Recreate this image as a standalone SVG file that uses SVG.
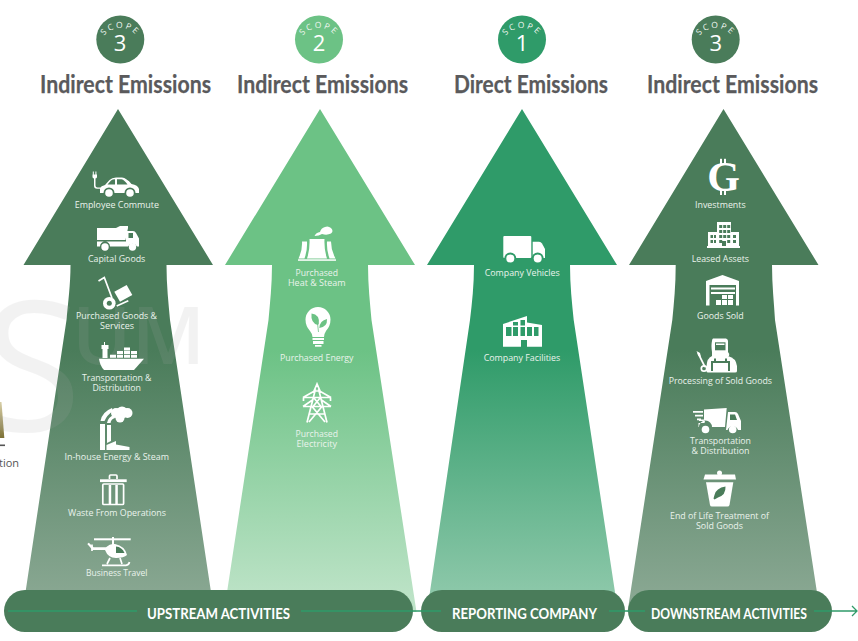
<svg xmlns="http://www.w3.org/2000/svg" xmlns:xlink="http://www.w3.org/1999/xlink" width="858" height="641" viewBox="0 0 858 641">
<style>
text{font-family:"Open Sans","Liberation Sans",sans-serif}
.t{font-size:25.500px;font-weight:700;fill:#5a5a5c;stroke:#5a5a5c;stroke-width:.25;font-family:Lato,"Open Sans",sans-serif}
.l{font-size:9.600px;fill:#eaf3ec}
.p{font-size:15px;font-weight:700;fill:#fff;font-family:Lato,"Open Sans",sans-serif}
.s{font-size:8.500px;fill:#eef5ef;letter-spacing:2.200px;text-anchor:middle}
.n{font-size:22px;fill:#fff;text-anchor:middle}
.w{fill:#fff}
.wl{fill:none;stroke:#fff;stroke-width:1.700}
.d{fill:#4a7c5a}.c{fill:#6cc285}.e{fill:#2f9b69}
.mark{fill:#aaa;opacity:.14}
.pill{fill:#4a7c5a}
.flow{fill:none;stroke:#2f9b69;stroke-width:1.300}
</style>
<defs>
<linearGradient id="g3" gradientUnits="userSpaceOnUse" x1="0" y1="350" x2="0" y2="600"><stop offset="0" stop-color="#4a7c5a"/><stop offset="1" stop-color="#8aa893"/></linearGradient>
<linearGradient id="g2" gradientUnits="userSpaceOnUse" x1="0" y1="350" x2="0" y2="600"><stop offset="0" stop-color="#6cc285"/><stop offset="1" stop-color="#bde3c7"/></linearGradient>
<linearGradient id="g1" gradientUnits="userSpaceOnUse" x1="0" y1="350" x2="0" y2="600"><stop offset="0" stop-color="#2f9b69"/><stop offset="1" stop-color="#8fc9ab"/></linearGradient>
<linearGradient id="gold" x1="0" y1="0" x2="0" y2="1"><stop offset="0" stop-color="#d8cfa8"/><stop offset="1" stop-color="#7d7136"/></linearGradient>
<path id="arc" d="M-20.700 9.200A20.700 20.700 0 0 1 20.700 9.200"/>
</defs>

<g id="background-fragment">
<path d="M0 402H1.500L4.300 438H0Z" fill="url(#gold)"/>
<rect x="0" y="444.500" width="5" height="1.600" fill="#555"/>
<text x="-1" y="467" font-size="11" fill="#555">tion</text>
</g>

<g id="arrow-upstream"><path fill="url(#g3)" d="M118 109L213 265H166.500C166.500 285 168.500 303 170 320L214 612H22.500L66.500 320C68 303 70.500 285 70.500 265H23.500Z"/></g>
<g id="arrow-scope2"><path fill="url(#g2)" d="M320 109L415 265H368C368 285 370 303 371.500 320L416.500 612H224L268.500 320C270 303 272 285 272 265H225Z"/></g>
<g id="arrow-scope1"><path fill="url(#g1)" d="M522 109L617 265H570C570 285 572 303 573.700 320L618 612H427L470 320C472 303 474 285 474 265H427Z"/></g>
<g id="arrow-downstream"><path fill="url(#g3)" d="M723.500 109L818.500 265H772C772 285 774 303 775 320L820 612H627.500L672.300 320C674 303 675.700 285 675.700 265H629Z"/></g>

<g id="watermark">
<text class="mark" x="-18" y="431" font-size="182">S</text>
<text class="mark" x="72" y="364" font-size="80" font-weight="600">UM</text>
</g>

<g id="scope-3-upstream"><circle class="d" cx="120.300" cy="39.500" r="24"/><g transform="translate(120.300 39.500)"><text class="s"><textPath href="#arc" xlink:href="#arc" startOffset="50%">SCOPE</textPath></text></g><text class="n" x="120" y="51">3</text><text class="t" x="40" y="92.500" textLength="171" lengthAdjust="spacingAndGlyphs">Indirect Emissions</text></g>
<g id="scope-2"><circle class="c" cx="319" cy="39.500" r="24"/><g transform="translate(319 39.500)"><text class="s"><textPath href="#arc" xlink:href="#arc" startOffset="50%">SCOPE</textPath></text></g><text class="n" x="319" y="51">2</text><text class="t" x="237" y="92.500" textLength="171" lengthAdjust="spacingAndGlyphs">Indirect Emissions</text></g>
<g id="scope-1"><circle class="e" cx="522" cy="39.500" r="24"/><g transform="translate(522 39.500)"><text class="s"><textPath href="#arc" xlink:href="#arc" startOffset="50%">SCOPE</textPath></text></g><text class="n" x="522" y="51">1</text><text class="t" x="454" y="92.500" textLength="154" lengthAdjust="spacingAndGlyphs">Direct Emissions</text></g>
<g id="scope-3-downstream"><circle class="d" cx="715.700" cy="39.500" r="24"/><g transform="translate(715.700 39.500)"><text class="s"><textPath href="#arc" xlink:href="#arc" startOffset="50%">SCOPE</textPath></text></g><text class="n" x="715.700" y="51">3</text><text class="t" x="647" y="92.500" textLength="171" lengthAdjust="spacingAndGlyphs">Indirect Emissions</text></g>

<g id="employee-commute">
<path class="w" d="M92.800 171.500h1v3h1.600v-3h1v3h.6v2.500q0 1.200-1.500 1.500v7q0 2 2 2h3v1.300h-3.500q-3 0-3-3v-7.300q-1.500-.3-1.500-1.500v-2.500h.3z"/>
<path class="w" d="M100 193V188Q101 186 105 185L109.500 180Q112 177.500 116 177.500H122Q126.500 178 131.500 184Q138 185 139 189V193Z"/>
<path class="d" d="M107.500 184.500L111 180.500Q112.500 179.300 115 179.300V184.500ZM117 179.300H121.500Q124.500 180 127.500 184.500H117Z"/>
<circle class="d" cx="109" cy="193" r="5.500"/><circle class="w" cx="109" cy="193" r="3.800"/><circle class="d" cx="130" cy="193" r="5.500"/><circle class="w" cx="130" cy="193" r="3.800"/>
<text class="l" x="74.700" y="208" textLength="84.300" lengthAdjust="spacingAndGlyphs">Employee Commute</text></g>

<g id="capital-goods">
<path class="w" d="M97 228H116L120 226H128V228L125.500 240H97Z"/>
<path class="w" d="M97 241.500H126V231H133Q135 231 136 233L139 238.500V246.500H137A5 5 0 0 0 128 246.500H110A5 5 0 0 0 100 246.500H97Z"/>
<rect class="d" x="128.500" y="233" width="4.500" height="5"/>
<circle class="w" cx="105" cy="247" r="3.700"/><circle class="w" cx="132.500" cy="247" r="3.700"/>
<text class="l" x="88" y="261.500" textLength="57.300" lengthAdjust="spacingAndGlyphs">Capital Goods</text></g>

<g id="purchased-goods">
<path class="wl" d="M98.500 281L104.300 277.500L112 298" stroke-width="2"/>
<path class="w" d="M114.300 291.700L126.700 285L132.300 295L120 301.700Z"/>
<circle class="w" cx="109.300" cy="303.300" r="6.300"/><circle class="d" cx="109.300" cy="303.300" r="2.500"/>
<path class="wl" d="M116.700 306L128.300 300.700" stroke-width="2"/>
<text class="l" x="76" y="318.500" textLength="81" lengthAdjust="spacingAndGlyphs">Purchased Goods &amp;</text>
<text class="l" x="100" y="328.500" textLength="34" lengthAdjust="spacingAndGlyphs">Services</text></g>

<g id="transportation-upstream">
<path class="w" d="M99 358.800H144L134 370H104Q100 366 99 358.800Z"/>
<path class="w" d="M104 342h1v3h3.500v4h-1v9h-5v-9h-1v-4h2.500z"/>
<path class="w" d="M110 354.800h6v3h-6zM117 354.800h6v3h-6zM124 354.800h6v3h-6zM131 354.800h6v3h-6zM117 351h6v3h-6zM124 351h6v3h-6zM131 351h6v3h-6zM124 347.500h6v3h-6z"/>
<text class="l" x="82" y="381" textLength="69.500" lengthAdjust="spacingAndGlyphs">Transportation &amp;</text>
<text class="l" x="92.500" y="391" textLength="48.500" lengthAdjust="spacingAndGlyphs">Distribution</text></g>

<g id="inhouse-energy">
<path class="w" d="M100 424H105V450H100ZM107 425H111V441L107 443ZM106.500 450V445L116 441V444.500L129.500 447V450Z"/>
<path class="w" d="M100.500 421Q102 412 112 408L113 411Q107 415 104.500 421ZM107 423Q108 417 114 415L115 418Q111 419 110.500 423Z"/>
<circle class="w" cx="116" cy="413" r="5"/><circle class="w" cx="122" cy="412.500" r="6"/><circle class="w" cx="127.500" cy="413" r="5"/><circle class="w" cx="120" cy="418" r="4.500"/>
<text class="l" x="64.500" y="460" textLength="104.500" lengthAdjust="spacingAndGlyphs">In-house Energy &amp; Steam</text></g>

<g id="waste-operations">
<rect class="w" x="100" y="479.300" width="26.700" height="2.800"/>
<path class="wl" d="M109.500 479V476Q109.500 475 110.500 475H116Q117 475 117 476V479" stroke-width="1.500"/>
<rect class="wl" x="102.800" y="484" width="20.800" height="20.500" rx="1" stroke-width="2"/>
<rect class="w" x="108.700" y="485" width="2.500" height="19"/><rect class="w" x="115.300" y="485" width="2.500" height="19"/>
<text class="l" x="68" y="516" textLength="98" lengthAdjust="spacingAndGlyphs">Waste From Operations</text></g>

<g id="business-travel">
<rect class="w" x="94" y="538.300" width="36.700" height="2"/><rect class="w" x="112" y="537" width="2" height="8"/>
<path class="w" d="M105 550H92.500L87.300 544L88.800 542.800L93.500 547.300H106Q110 543.500 115 544Q125 546 127 555Q124 558 116 558Q108 558 105 550Z"/>
<path class="d" d="M116 546.500Q122 547 124.500 553H116Z"/>
<path class="wl" d="M92 544.500V551M110 558L107 564M120 558L122 564M102 565.300H126Q129 565 129.500 562" stroke-width="2"/>
<text class="l" x="86" y="575.700" textLength="61.500" lengthAdjust="spacingAndGlyphs">Business Travel</text></g>

<g id="purchased-heat">
<path class="w" d="M309.500 239H324.500Q324 250 327 258.500H307Q310 250 309.500 239Z"/>
<path class="w" d="M302 241.500H307Q307.500 250 304.500 258.500H298.500Q302.500 250 302 241.500Z"/>
<path class="w" d="M327 241.500H331Q331 250 335.500 258.500H329.500Q326.500 250 327 241.500Z"/>
<rect class="w" x="298" y="259.300" width="38" height="1.500"/>
<path class="w" d="M314.500 236Q316 232.500 320 232Q321 228 325 227Q328 225.500 331 228Q334 231 331 233.500Q327 235.500 322 234Q319 236 314.500 236Z"/>
<text class="l" x="295.500" y="276" textLength="42.500" lengthAdjust="spacingAndGlyphs">Purchased</text>
<text class="l" x="288" y="286" textLength="57.500" lengthAdjust="spacingAndGlyphs">Heat &amp; Steam</text></g>

<g id="purchased-energy">
<path class="w" d="M318 307A12.500 12.500 0 0 1 330.500 319.500Q330.500 326 326 331Q324 334 324 337H312.500Q312.500 334 310 331Q305.500 326 305.500 319.500A12.500 12.500 0 0 1 318 307Z"/>
<path class="c" d="M317.800 325Q310.500 323 311.500 313.500Q320 314.500 318.800 324ZM319.300 328Q319.800 320.500 327 319Q327.500 327 319.300 328Z"/>
<path d="M317 319L318.500 332" fill="none" stroke="#6cc285" stroke-width=".8"/>
<rect class="w" x="312.500" y="338" width="11.500" height="2"/><rect class="w" x="313" y="341" width="10.500" height="3"/><rect class="w" x="315" y="345" width="6.500" height="1.700"/>
<text class="l" x="280" y="360.700" textLength="73.500" lengthAdjust="spacingAndGlyphs">Purchased Energy</text></g>

<g id="purchased-electricity">
<path class="wl" d="M315.500 389L307 422.500M318.500 389L327 422.500M317 384L314 391H320ZM303 397.500L314.500 391M331 397.500L319.500 391M303 397.500H331M303 406.500L312.500 400M331 406.500L321.500 400M303 406.500H331M303.500 401V397.500M330.500 401V397.500M313.500 397.500L321 406.500M320.500 397.500L313 406.500M312 406.500L325 422M322 406.500L309 422M309.500 414H324.500"/>
<text class="l" x="295.500" y="437" textLength="42.500" lengthAdjust="spacingAndGlyphs">Purchased</text>
<text class="l" x="296.500" y="447.300" textLength="40.500" lengthAdjust="spacingAndGlyphs">Electricity</text></g>

<g id="company-vehicles">
<rect class="w" x="503.300" y="236" width="28" height="22" rx="1"/>
<path class="w" d="M532.700 241.700H539Q541 241.700 542 243.500L545 249V258H532.700Z"/>
<circle class="e" cx="510.300" cy="258.500" r="6"/><circle class="w" cx="510.300" cy="258.500" r="4"/><circle class="e" cx="537.700" cy="258.500" r="6"/><circle class="w" cx="537.700" cy="258.500" r="4"/>
<text class="l" x="484.700" y="276" textLength="75" lengthAdjust="spacingAndGlyphs">Company Vehicles</text></g>

<g id="company-facilities">
<path class="w" d="M503 324L527 316V322.500L542 325V346.700H503Z"/>
<path class="e" d="M506 327h5.500v9h-5.500zM513 327h5v9h-5zM520.500 327h4.500v9h-4.500zM527 327h5v9h-5zM534 327h4.500v9h-4.500zM521 340h6v7h-6zM513 322h5v3.500h-5zM520.500 320h4.500v5.500h-4.500z"/>
<text class="l" x="483.700" y="360.700" textLength="76.600" lengthAdjust="spacingAndGlyphs">Company Facilities</text></g>

<g id="investments">
<rect class="w" x="720" y="158.800" width="2" height="6"/><rect class="w" x="724" y="158.800" width="2" height="6"/><rect class="w" x="720" y="189" width="2" height="6"/><rect class="w" x="724" y="189" width="2" height="6"/>
<text x="723.500" y="190.500" font-size="42" font-weight="700" text-anchor="middle" fill="#fff" style="font-family:'Liberation Serif',serif">G</text>
<text class="l" x="695" y="208" textLength="50.700" lengthAdjust="spacingAndGlyphs">Investments</text></g>

<g id="leased-assets">
<path class="w" d="M717 222H731V232H739V246H708V232H717Z"/>
<rect class="w" x="707" y="246" width="33" height="2"/>
<path class="d" d="M719.200 225h3v3h-3zM723.200 225h3v3h-3zM727.200 225h3v3h-3zM719.200 230h3v3h-3zM723.200 230h3v3h-3zM727.200 230h3v3h-3zM719.200 235h3v3h-3zM723.200 235h3v3h-3zM727.200 235h3v3h-3zM719.200 240h3v3h-3zM727.200 240h3v3h-3zM710.500 235h2.500v3h-2.500zM714 235h2v3h-2zM710.500 240h2.500v3h-2.500zM714 240h2v3h-2zM733 235h3v3h-3zM733 240h3v3h-3zM722 241h4v5h-4z"/>
<text class="l" x="691.700" y="261.500" textLength="57.300" lengthAdjust="spacingAndGlyphs">Leased Assets</text></g>

<g id="goods-sold">
<path class="w" d="M706 281L722.500 275L739 281V305.500H736V285H709.500V305.500H706Z"/>
<rect class="w" x="711" y="287.500" width="24" height="2"/><rect class="w" x="711" y="292" width="24" height="2"/>
<path class="w" d="M716 300h5v5h-5zM722 300h5v5h-5zM728 300h5v5h-5zM722 295h5v4h-5zM728 295h5v4h-5z"/>
<text class="l" x="697" y="318.500" textLength="46.700" lengthAdjust="spacingAndGlyphs">Goods Sold</text></g>

<g id="processing-sold-goods">
<path class="w" d="M713 338.500H726Q728 339 728 341V352Q730 354 729 356H712V352Q711 345 712 341Q712 339 713 338.500Z"/>
<rect class="d" x="715" y="342.300" width="10.500" height="8"/><rect class="w" x="716" y="343.500" width="8.500" height="1.500"/>
<path class="w" d="M712 356H728Q736 358 737 366V371Q737 372.500 735 372.500H708Q706.500 372.500 706.500 371V366Q707 358 712 356Z"/>
<path class="d" d="M711 361H714V358.500H716V361H725V358.500H727V361H730V371H728V363H713V371H711Z"/>
<path class="wl" d="M698 353L705 367"/><path class="w" d="M696.500 351L700 353L701 357L698.500 356Z"/>
<circle class="wl" cx="704" cy="368.500" r="2.700"/>
<text class="l" x="668.700" y="383.500" textLength="103.300" lengthAdjust="spacingAndGlyphs">Processing of Sold Goods</text></g>

<g id="transportation-downstream">
<path class="w" d="M704 409.500L726.700 408L725 427H712A6.500 6.500 0 0 0 699 427H698.500V423H704.500L705 421H699V419.500H704Z"/>
<path class="w" d="M728 412H735Q737 412 738 414L741 421V430H738A5.500 5.500 0 0 0 727.500 430H726Z"/>
<path class="d" d="M730 414.500H735L737 420H730Z"/>
<path class="wl" d="M693 411.800H703M695 415.700H703M697 419.400H701" stroke-width="1.300"/>
<circle class="w" cx="705.500" cy="429.500" r="3.800"/><circle class="w" cx="732.700" cy="429.500" r="3.800"/>
<text class="l" x="690" y="443.700" textLength="61" lengthAdjust="spacingAndGlyphs">Transportation</text>
<text class="l" x="691.500" y="454" textLength="58" lengthAdjust="spacingAndGlyphs">&amp; Distribution</text></g>

<g id="end-of-life">
<circle class="w" cx="719.500" cy="473" r="2.500"/>
<path class="w" d="M705 474.500H735L736 479.500H703.500Z"/>
<path class="w" d="M706 482.300H733.300L729.500 505Q729 506.500 727.500 506.500H712Q710.300 506.500 710 505Z"/>
<path class="d" d="M714.500 495Q716 488 725.500 486.500Q726 495 718 497.500L714.500 499.500L713.500 498.500Z"/>
<text class="l" x="670" y="518.700" textLength="99" lengthAdjust="spacingAndGlyphs">End of Life Treatment of</text>
<text class="l" x="696" y="529.300" textLength="47" lengthAdjust="spacingAndGlyphs">Sold Goods</text></g>

<g id="upstream-activities"><rect class="pill" x="4" y="590" width="409" height="42" rx="21"/></g>
<g id="reporting-company"><rect class="pill" x="421" y="590" width="204" height="42" rx="21"/></g>
<g id="downstream-activities"><rect class="pill" x="628" y="590" width="204" height="42" rx="21"/></g>

<g id="connectors">
<path class="flow" d="M8 611H137M301 611H441M609 611H645M814 611H856.500M852 606L857 611L852 616"/>
</g>

<g id="pill-labels">
<text class="p" x="147" y="618.500" textLength="143" lengthAdjust="spacingAndGlyphs">UPSTREAM ACTIVITIES</text>
<text class="p" x="452" y="618.500" textLength="145" lengthAdjust="spacingAndGlyphs">REPORTING COMPANY</text>
<text class="p" x="651" y="618.500" textLength="156" lengthAdjust="spacingAndGlyphs">DOWNSTREAM ACTIVITIES</text>
</g>
</svg>
